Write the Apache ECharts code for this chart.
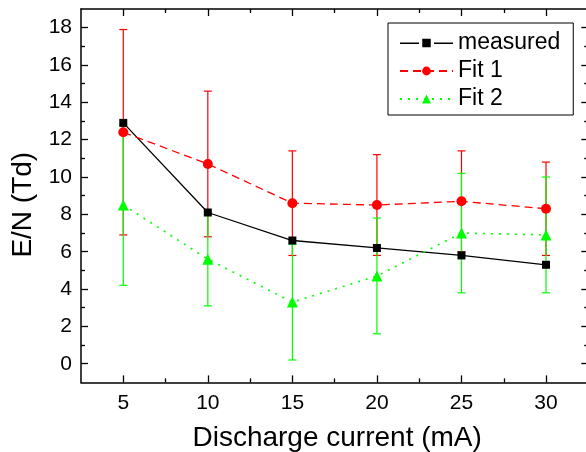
<!DOCTYPE html>
<html>
<head>
<meta charset="utf-8">
<script src="https://cdn.jsdelivr.net/npm/echarts@6/dist/echarts.min.js"></script>
<style>
html,body{margin:0;padding:0;background:#fff;}
#chart{width:586px;height:452px;}
</style>
</head>
<body>
<div id="chart"></div>
<script>
const currents = [5, 10, 15, 20, 25, 30];
const measured = [12.9, 8.1, 6.6, 6.2, 5.8, 5.3];
const fit1 = [12.4, 10.7, 8.6, 8.5, 8.7, 8.3];
const fit1Err = [5.5, 3.9, 2.8, 2.7, 2.7, 2.5];
const fit2 = [8.5, 5.6, 3.3, 4.7, 7.0, 6.9];
const fit2Err = [4.3, 2.5, 3.1, 3.1, 3.2, 3.1];
const xMajorTicks = [5, 10, 15, 20, 25, 30];
const xMinorTicks = [7.5, 12.5, 17.5, 22.5, 27.5];
const yMajorTicks = [0, 2, 4, 6, 8, 10, 12, 14, 16, 18];
const yMinorTicks = [1, 3, 5, 7, 9, 11, 13, 15, 17];
const xRange = [2.5, 32.5];
const yRange = [-1, 19];
const seriesNames = ['measured', 'Fit 1', 'Fit 2'];

const FONT = '"Liberation Sans", Arial, sans-serif';
const BLACK = '#000000';
const RED = '#ff0000';
const GREEN = '#00ff00';
// legend glyph for "measured": line - square - line with small gaps
const MEASURED_ICON = 'path://M0,3.75H19V5.15H0Z M22.25,0H30.75V8.5H22.25Z M34,3.75H53V5.15H34Z';

function axisCommon(pos, range, ticks, len, showLine, labels) {
  return {
    type: 'value', position: pos, min: range[0], max: range[1],
    axisLine: { show: showLine, onZero: false, lineStyle: { color: BLACK, width: 1.5 } },
    axisTick: { show: true, inside: true, length: len, customValues: ticks, lineStyle: { color: BLACK, width: 1.3 } },
    axisLabel: labels ? { show: true, customValues: ticks, color: BLACK, fontSize: 21, fontFamily: FONT, margin: 10 } : { show: false },
    splitLine: { show: false },
    minorTick: { show: false }
  };
}

const xAxes = [
  Object.assign(axisCommon('bottom', xRange, xMajorTicks, 7, true, true), {
    name: 'Discharge current (mA)', nameLocation: 'middle', nameGap: 42,
    nameTextStyle: { fontSize: 28, fontFamily: FONT, color: BLACK, padding: [0, 0, 0, 5] }
  }),
  axisCommon('bottom', xRange, xMinorTicks, 4, false, false),
  axisCommon('top', xRange, xMajorTicks, 7, true, false),
  axisCommon('top', xRange, xMinorTicks, 4, false, false)
];
const yAxes = [
  Object.assign(axisCommon('left', yRange, yMajorTicks, 7, true, true), {
    name: 'E/N (Td)', nameLocation: 'middle', nameGap: 43,
    nameTextStyle: { fontSize: 28, fontFamily: FONT, color: BLACK, padding: [0, 18, 0, 0] }
  }),
  axisCommon('left', yRange, yMinorTicks, 4, false, false),
  axisCommon('right', yRange, yMajorTicks, 7, true, false),
  axisCommon('right', yRange, yMinorTicks, 4, false, false)
];
yAxes[0].axisLabel.margin = 9;

function errSeries(name, vals, errs, color) {
  return {
    type: 'custom', name: name, xAxisIndex: 0, yAxisIndex: 0, silent: true,
    data: currents.map((x, i) => [x, vals[i] - errs[i], vals[i] + errs[i]]),
    encode: { x: 0, y: [1, 2] },
    renderItem: function (params, api) {
      const lo = api.coord([api.value(0), api.value(1)]);
      const hi = api.coord([api.value(0), api.value(2)]);
      const hw = 4;
      const st = { stroke: color, lineWidth: 1.2 };
      return {
        type: 'group', children: [
          { type: 'line', shape: { x1: lo[0], y1: lo[1], x2: hi[0], y2: hi[1] }, style: st },
          { type: 'line', shape: { x1: lo[0] - hw, y1: lo[1], x2: lo[0] + hw, y2: lo[1] }, style: st },
          { type: 'line', shape: { x1: hi[0] - hw, y1: hi[1], x2: hi[0] + hw, y2: hi[1] }, style: st }
        ]
      };
    }
  };
}

const chart = echarts.init(document.getElementById('chart'), null, { renderer: 'canvas' });
chart.setOption({
  animation: false,
  backgroundColor: '#ffffff',
  grid: { left: 81, top: 9, right: -2.3, bottom: 69.6, containLabel: false, outerBoundsMode: 'none' },
  xAxis: xAxes,
  yAxis: yAxes,
  legend: {
    data: [{ name: seriesNames[0], icon: MEASURED_ICON }, seriesNames[1], seriesNames[2]],
    orient: 'vertical', left: 388, top: 23, symbolKeepAspect: true,
    padding: [6, 13, 2, 11], itemGap: 0, itemWidth: 53, itemHeight: 11,
    borderColor: BLACK, borderWidth: 1, backgroundColor: '#ffffff',
    textStyle: { fontSize: 23, lineHeight: 28, fontFamily: FONT, color: BLACK }
  },
  series: [
    {
      type: 'line', name: seriesNames[0], data: currents.map((x, i) => [x, measured[i]]),
      symbol: 'rect', symbolSize: 8, itemStyle: { color: BLACK },
      lineStyle: { color: BLACK, width: 1.3 }, z: 3
    },
    errSeries('fit1err', fit1, fit1Err, RED),
    {
      type: 'line', name: seriesNames[1], data: currents.map((x, i) => [x, fit1[i]]),
      symbol: 'circle', symbolSize: 10, itemStyle: { color: RED },
      lineStyle: { color: RED, width: 1.3, type: [8, 5] }, z: 3
    },
    errSeries('fit2err', fit2, fit2Err, GREEN),
    {
      type: 'line', name: seriesNames[2], data: currents.map((x, i) => [x, fit2[i]]),
      symbol: 'triangle', symbolSize: 11, itemStyle: { color: GREEN },
      lineStyle: { color: GREEN, width: 1.6, type: [2, 6] }, z: 3
    }
  ]
});
</script>
</body>
</html>
